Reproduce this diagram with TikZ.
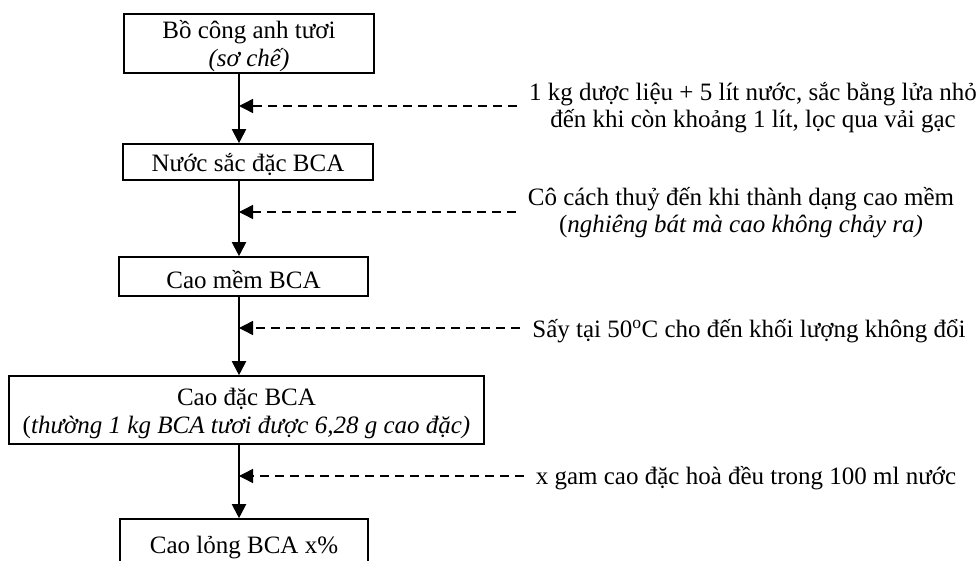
\documentclass[tikz,border=0pt]{standalone}
\usepackage{fontspec}
\setmainfont{Liberation Serif}
\usetikzlibrary{arrows.meta}
% sets a line a little lower without changing its reported size
\newcommand\lowr[1]{\raisebox{-3pt}[\height][\depth]{#1}}
\begin{document}
\begin{tikzpicture}[x=1pt,y=-1pt,
  stage/.style={draw, line width=1.6pt, inner sep=0pt, align=center,
    font=\fontsize{25}{28}\selectfont},
  note/.style={align=center, inner ysep=0pt, inner xsep=12pt,
    font=\fontsize{25}{27}\selectfont},
  flow/.style={line width=2pt, -{Triangle[length=14pt,width=14pt]}},
  feed/.style={line width=1.4pt, dash pattern=on 9pt off 6pt,
    -{Triangle[length=14pt,width=14pt]}}]
\useasboundingbox (0,0) rectangle (980,561);
\clip (0,0) rectangle (980,561);

% process stages
\node[stage, minimum width=250pt, minimum height=59pt] (b1) at (249,43.5)
  {\lowr{Bồ công anh tươi}\\\lowr{\textit{(sơ chế)}}};
\node[stage, minimum width=250pt, minimum height=36pt] (b2) at (248,162)
  {\lowr{Nước sắc đặc BCA}};
\node[stage, minimum width=249pt, minimum height=39pt] (b3) at (243.5,276.5)
  {\lowr{Cao mềm BCA}};
\node[stage, minimum width=475pt, minimum height=68pt] (b4) at (246.5,410)
  {\lowr{Cao đặc BCA}\\\lowr{(\textit{thường 1 kg BCA tươi được 6,28 g cao đặc)}}};
\node[stage, minimum width=248pt, minimum height=52pt] (b5) at (244,545)
  {\lowr{Cao lỏng BCA x\%}};

% junctions on the main line
\coordinate (j1) at (239,106);
\coordinate (j2) at (239,212);
\coordinate (j3) at (239,328);
\coordinate (j4) at (239,476);

% operating notes
\node[note] (n1) at (753,108)
  {1 kg dược liệu + 5 lít nước, sắc bằng lửa nhỏ\\đến khi còn khoảng 1 lít, lọc qua vải gạc};
\node[note] (n2) at (741,213)
  {Cô cách thuỷ đến khi thành dạng cao mềm\\(\textit{nghiêng bát mà cao không chảy ra)}};
\node[note] (n3) at (749,331)
  {Sấy tại 50\textsuperscript{o}C cho đến khối lượng không đổi};
\node[note] (n4) at (746,478)
  {x gam cao đặc hoà đều trong 100 ml nước};

% side inputs
\draw[feed] (n1.west |- j1) -- (j1);
\draw[feed] (n2.west |- j2) -- (j2);
\draw[feed] (n3.west |- j3) -- (j3);
\draw[feed] (n4.west |- j4) -- (j4);

% main flow
\draw[flow] (b1.south -| j1) -- (b2.north -| j1);
\draw[flow] (b2.south -| j2) -- (b3.north -| j2);
\draw[flow] (b3.south -| j3) -- (b4.north -| j3);
\draw[flow] (b4.south -| j4) -- (b5.north -| j4);
\end{tikzpicture}
\end{document}
